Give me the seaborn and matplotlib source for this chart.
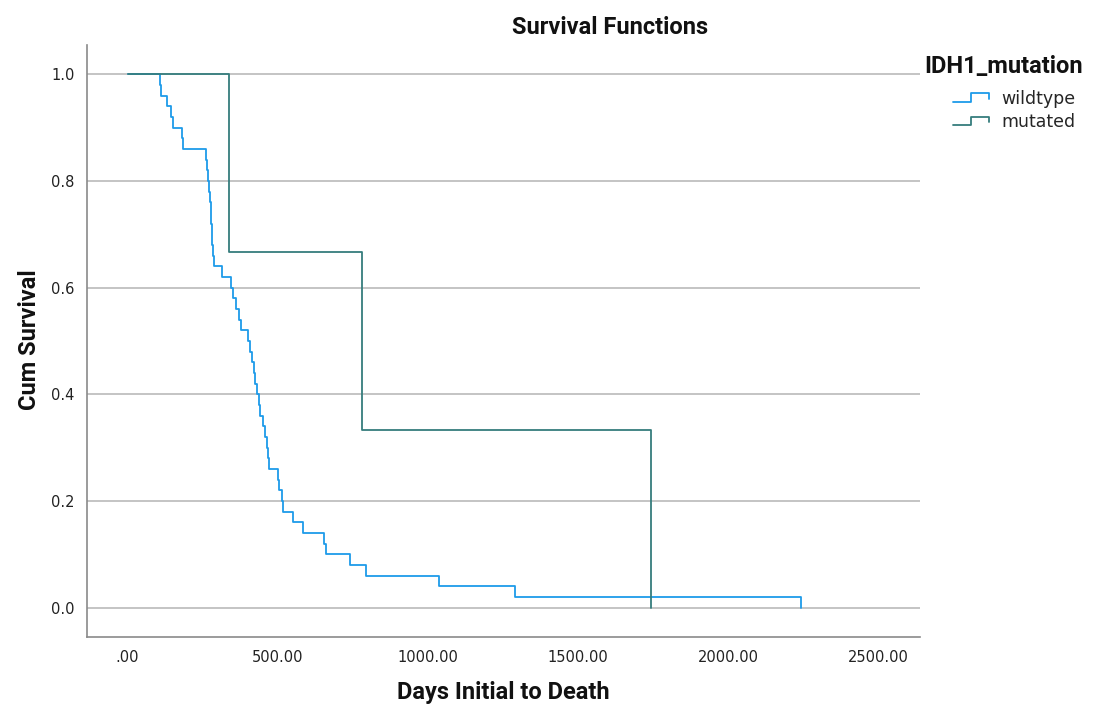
import numpy as np
import pandas as pd
import matplotlib
matplotlib.use("Agg")
import matplotlib.pyplot as plt
import seaborn as sns
from matplotlib.lines import Line2D
from matplotlib.legend_handler import HandlerBase
from matplotlib import font_manager

# ---- data ----
groups = ["wildtype", "mutated"]
wildtype_death_days = [108, 113, 133, 144, 153, 183, 186, 261, 266, 269,
                       272, 276, 277, 279, 281, 283, 285, 288, 316, 346,
                       352, 360, 370, 379, 403, 407, 414, 420, 425, 432,
                       439, 442, 450, 457, 464, 469, 472, 502, 503, 513,
                       517, 550, 583, 655, 662, 740, 793, 1039, 1291, 2244]
mutated_death_days = [338, 780, 1745]
x_ticks = [0, 500, 1000, 1500, 2000, 2500]
x_tick_labels = [".00", "500.00", "1000.00", "1500.00", "2000.00", "2500.00"]
y_ticks = [0.0, 0.2, 0.4, 0.6, 0.8, 1.0]
y_tick_labels = ["0.0", "0.2", "0.4", "0.6", "0.8", "1.0"]
colors = {"wildtype": "#1e9be9", "mutated": "#367d7d"}


def km_table(name, days):
    n = len(days)
    t = [0] + list(days)
    s = [1.0] + [1.0 - (i + 1) / n for i in range(n)]
    return pd.DataFrame({"time": t, "surv": s, "group": name})


df = pd.concat([km_table("wildtype", wildtype_death_days),
                km_table("mutated", mutated_death_days)], ignore_index=True)

sns.set_theme(style="white")
avail = {f.name for f in font_manager.fontManager.ttflist}
narrow = "Liberation Sans Narrow" if "Liberation Sans Narrow" in avail else "Roboto"
plt.rcParams["font.family"] = ["DejaVu Sans"]

fig = plt.figure(figsize=(11.08, 7.08), dpi=100)
ax = fig.add_axes([87 / 1108, 1 - 637 / 708, (920 - 87) / 1108, (637 - 45) / 708])

sns.lineplot(data=df, x="time", y="surv", hue="group", hue_order=groups,
             palette=colors, drawstyle="steps-post", estimator=None,
             sort=False, linewidth=1.3, legend=False, ax=ax)

ax.set_xlim(-135, 2640)
ax.set_ylim(-0.055, 1.055)
ax.set_xticks(x_ticks)
ax.set_xticklabels(x_tick_labels)
ax.set_yticks(y_ticks)
ax.set_yticklabels(y_tick_labels)
ax.tick_params(axis="both", length=0, labelsize=10.5, colors="#222222")
ax.tick_params(axis="x", pad=9)
ax.tick_params(axis="y", pad=9)
ax.yaxis.grid(True, color="#c4c4c4", linewidth=1.4)
ax.xaxis.grid(False)
for sp in ["top", "right"]:
    ax.spines[sp].set_visible(False)
for sp in ["left", "bottom"]:
    ax.spines[sp].set_color("#8a8a8a")
    ax.spines[sp].set_linewidth(1.2)

ax.set_xlabel("")
ax.set_ylabel("")
fig.text(503 / 1108, 1 - 693 / 708, "Days Initial to Death", ha="center", va="center",
         fontsize=17, fontweight="bold", family=[narrow, "DejaVu Sans"], color="#111111")
fig.text(30 / 1108, 1 - 340 / 708, "Cum Survival", ha="center", va="center", rotation=90,
         fontsize=17, fontweight="bold", family=[narrow, "DejaVu Sans"], color="#111111")
fig.text(610 / 1108, 1 - 27 / 708, "Survival Functions", ha="center", va="center",
         fontsize=17, fontweight="bold", family=[narrow, "DejaVu Sans"], color="#111111")
fig.text(924 / 1108, 1 - 67 / 708, "IDH1_mutation", ha="left", va="center",
         fontsize=17, fontweight="bold", family=[narrow, "DejaVu Sans"], color="#111111")


class StepHandler(HandlerBase):
    def create_artists(self, legend, orig_handle, xdescent, ydescent,
                       width, height, fontsize, trans):
        x0, y0 = -xdescent, -ydescent
        xs = [x0, x0 + 0.5 * width, x0 + 0.5 * width, x0 + width, x0 + width]
        ys = [y0 + 0.1 * height, y0 + 0.1 * height, y0 + 0.9 * height,
              y0 + 0.9 * height, y0 + 0.4 * height]
        ln = Line2D(xs, ys, color=orig_handle.get_color(), lw=1.3)
        ln.set_transform(trans)
        return [ln]


handles = [Line2D([], [], color=colors[g]) for g in groups]
leg = fig.legend(handles, groups, loc="upper left",
                 bbox_to_anchor=(953 / 1108, 1 - 90 / 708), frameon=False,
                 handler_map={Line2D: StepHandler()}, handlelength=2.1,
                 handleheight=0.6, handletextpad=0.7, labelspacing=0.3,
                 fontsize=12.5, borderaxespad=0, borderpad=0)

fig.savefig("out.png", dpi=100)
